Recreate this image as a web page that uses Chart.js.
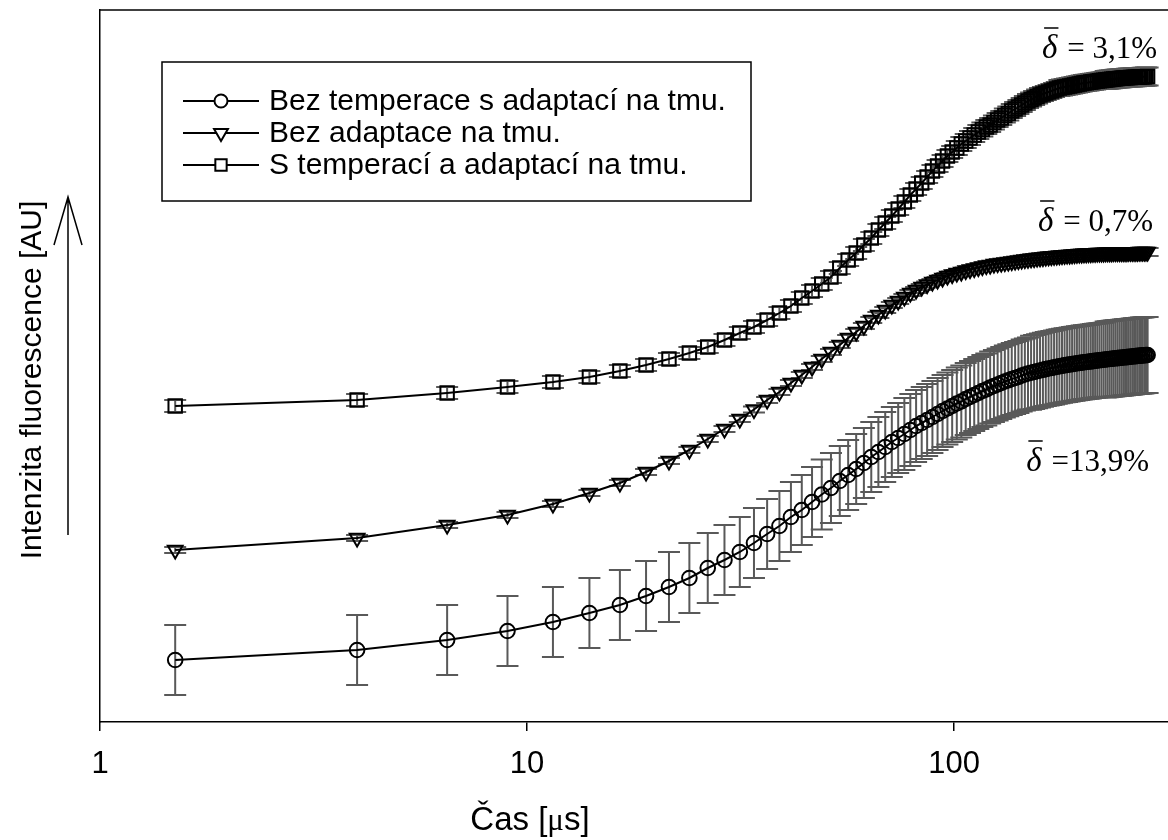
<!DOCTYPE html>
<html>
<head>
<meta charset="utf-8">
<title>Intenzita fluorescence</title>
<script src="https://cdn.jsdelivr.net/npm/chart.js"></script>
<style>
  html, body { margin: 0; padding: 0; background: #fff; }
  canvas { display: block; }
</style>
</head>
<body>
<canvas id="chart" width="1168" height="840"></canvas>
<script>
// ===== Data (time in µs, intensity in AU) =====
const time = [
  1.5, 4, 6.5, 9, 11.5, 14, 16.5, 19, 21.5, 24,
  26.5, 29, 31.5, 34, 36.5, 39, 41.5, 44, 46.5, 49,
  51.5, 54, 56.5, 59, 61.5, 64, 66.5, 69, 71.5, 74,
  76.5, 79, 81.5, 84, 86.5, 89, 91.5, 94, 96.5, 99,
  101.5, 104, 106.5, 109, 111.5, 114, 116.5, 119, 121.5, 124,
  126.5, 129, 131.5, 134, 136.5, 139, 141.5, 144, 146.5, 149,
  151.5, 154, 156.5, 159, 161.5, 164, 166.5, 169, 171.5, 174,
  176.5, 179, 181.5, 184, 186.5, 189, 191.5, 194, 196.5, 199,
  201.5, 204, 206.5, 209, 211.5, 214, 216.5, 219, 221.5, 224,
  226.5, 229, 231.5, 234, 236.5, 239, 241.5, 244, 246.5, 249,
  251.5, 254, 256.5, 259, 261.5, 264, 266.5, 269, 271.5, 274,
  276.5, 279, 281.5, 284
];

// Bez temperace s adaptací na tmu. (circles)
const circleVals = [
  62, 72, 82, 91, 100, 109, 117, 126, 135, 144,
  154, 162, 170, 179, 188, 196, 205, 212, 220, 227.5,
  234, 241, 247, 253, 259, 265, 270, 275, 280, 284,
  288, 292, 296, 299, 302, 305, 308, 311, 313.5, 316,
  318.5, 320.5, 323, 325, 327, 329, 331, 332.5, 334.5, 336,
  337.5, 339, 340.5, 341.7, 343, 344, 345, 346.5, 347.5, 348.5,
  349.3, 350, 350.8, 351.5, 352.2, 352.9, 353.5, 354, 354.6, 355.2,
  355.7, 356.2, 356.7, 357.1, 357.5, 357.9, 358.3, 358.7, 359, 359.4,
  359.7, 360, 360.3, 360.6, 360.9, 361.2, 361.5, 361.7, 362, 362.3,
  362.5, 362.8, 363, 363.2, 363.5, 363.7, 363.9, 364.1, 364.3, 364.5,
  364.7, 364.9, 365.1, 365.3, 365.5, 365.7, 365.9, 366.1, 366.3, 366.4,
  366.6, 366.8, 366.9, 367
];
const circleErr = [
  35, 35, 35, 35, 35, 35, 35, 35, 35, 35,
  35, 35, 35, 35, 35, 35, 35, 35, 35, 35,
  35, 35, 35, 35, 35, 35, 35, 35, 35, 35,
  36, 36, 36, 36, 36, 36, 36, 36, 36, 36,
  36, 36, 36, 36, 36, 36, 36, 36, 36, 36,
  36, 36, 36, 36, 36, 36, 36, 36, 36, 36,
  37, 37, 37, 37, 37, 37, 37, 37, 37, 37,
  37, 37, 37, 37, 37, 37, 37, 37, 37, 37,
  37, 37, 37, 37, 37, 37, 37, 37, 37, 37,
  38, 38, 38, 38, 38, 38, 38, 38, 38, 38,
  38, 38, 38, 38, 38, 38, 38, 38, 38, 38,
  38, 38, 38, 38
];

// Bez adaptace na tmu. (triangles)
const triangleVals = [
  172, 184, 197, 207, 218, 229, 239, 250, 261, 272,
  283, 293, 303, 312.5, 322, 330, 339, 347, 355, 363,
  370, 377, 384, 390, 396, 402, 407, 412, 417, 421,
  425, 429, 432, 435, 437.5, 440, 442, 444, 446, 447.5,
  449, 450, 451.5, 452.5, 453.5, 454.5, 455.5, 456.5, 457, 458,
  458.5, 459, 459.5, 460, 460.5, 461, 461.5, 462, 462.4, 462.8,
  463.2, 463.6, 464, 464.3, 464.6, 464.9, 465.2, 465.5, 465.8, 466,
  466.3, 466.5, 466.7, 466.9, 467.1, 467.3, 467.5, 467.7, 467.9, 468,
  468.2, 468.3, 468.5, 468.6, 468.7, 468.8, 468.9, 469, 469.1, 469.1,
  469.2, 469.2, 469.3, 469.3, 469.4, 469.4, 469.5, 469.5, 469.5, 469.6,
  469.6, 469.6, 469.7, 469.7, 469.7, 469.8, 469.8, 469.8, 469.9, 469.9,
  469.9, 470, 470, 470
];
const triangleErr = [
  3, 3, 3, 3, 3, 3, 3, 3, 3, 3,
  3, 3, 3, 3, 3, 3, 3, 3, 3, 3,
  3, 3, 3, 3, 3, 3, 3, 3, 3, 3,
  3, 3, 3, 3, 3, 3, 3, 3, 3, 3,
  3, 3, 3, 3, 3, 3, 3, 3, 3, 3,
  3, 3, 3, 3, 3, 3, 3, 3, 3, 3,
  4, 4, 4, 4, 4, 4, 4, 4, 4, 4,
  4, 4, 4, 4, 4, 4, 4, 4, 4, 4,
  4, 4, 4, 4, 4, 4, 4, 4, 4, 4,
  4, 4, 4, 4, 4, 4, 4, 4, 4, 4,
  4, 4, 4, 4, 4, 4, 4, 4, 4, 4,
  4, 4, 4, 4
];

// S temperací a adaptací na tmu. (squares)
const squareVals = [
  316, 322, 329, 335, 340, 345, 351, 357, 363, 369,
  375, 382, 389, 395, 402, 409, 416, 424, 431, 438,
  445, 454, 462, 469, 477, 484, 492, 499, 506, 513,
  520, 527, 533, 539, 545, 551, 556, 561, 566, 570,
  574, 578, 581, 584, 587, 590, 592.5, 595, 597, 599.5,
  602, 604, 606.5, 608.5, 611, 613, 615, 617, 619, 621,
  622.5, 624, 625.5, 627, 628, 629, 630, 631, 632, 633,
  634, 634.5, 635, 635.5, 636, 636.5, 637, 637.5, 638, 638.5,
  639, 639.3, 639.6, 640, 640.3, 640.6, 640.9, 641.2, 641.5, 641.8,
  642, 642.3, 642.5, 642.7, 643, 643.2, 643.4, 643.6, 643.8, 644,
  644.1, 644.3, 644.4, 644.5, 644.6, 644.7, 644.8, 644.9, 645, 645.1,
  645.2, 645.3, 645.4, 645.5
];
const squareErr = [
  6, 6, 6, 6, 6, 6, 6, 6, 6, 6,
  6, 6, 6, 6, 6, 6, 6, 6, 6, 6,
  6, 6, 6, 6, 6, 6, 6, 6, 6, 6,
  6, 6, 6, 6, 6, 6, 6, 6, 6, 6,
  7, 7, 7, 7, 7, 7, 7, 7, 7, 7,
  7, 7, 7, 7, 7, 7, 7, 7, 7, 7,
  7, 7, 7, 7, 7, 7, 7, 7, 7, 7,
  8, 8, 8, 8, 8, 8, 8, 8, 8, 8,
  8, 8, 8, 8, 8, 8, 8, 8, 8, 8,
  9, 9, 9, 9, 9, 9, 9, 9, 9, 9,
  9, 9, 9, 9, 9, 9, 9, 9, 9, 9,
  9, 9, 9, 9
];

const seriesNames = [
  "Bez temperace s adaptací na tmu.",
  "Bez adaptace na tmu.",
  "S temperací a adaptací na tmu."
];
const xTicks = [1, 10, 100];
const deltaLabels = ["3,1%", "0,7%", "13,9%"];

// ===== Helpers =====
const toPoints = (vals) => vals.map((v, i) => ({ x: time[i], y: v }));

function markerPath(ctx, style, x, y, r) {
  ctx.beginPath();
  if (style === "circle") {
    ctx.arc(x, y, r, 0, Math.PI * 2);
  } else if (style === "triangle") {
    // pointing down
    ctx.moveTo(x, y + r);
    ctx.lineTo(x - r * 0.866, y - r * 0.5);
    ctx.lineTo(x + r * 0.866, y - r * 0.5);
    ctx.closePath();
  } else {
    const s = r * Math.SQRT1_2;
    ctx.rect(x - s, y - s, 2 * s, 2 * s);
  }
}

// ===== Error bars (drawn under the markers) =====
const errorBars = {
  id: "errorBars",
  beforeDatasetsDraw(chart) {
    const { ctx, scales: { x, y } } = chart;
    ctx.save();
    ctx.strokeStyle = "#595959";
    ctx.lineWidth = 2;
    chart.data.datasets.forEach((ds) => {
      ds.data.forEach((p, i) => {
        const px = x.getPixelForValue(p.x);
        const top = y.getPixelForValue(p.y + ds.err[i]);
        const bot = y.getPixelForValue(p.y - ds.err[i]);
        ctx.beginPath();
        ctx.moveTo(px, top);
        ctx.lineTo(px, bot);
        ctx.moveTo(px - 11, top);
        ctx.lineTo(px + 11, top);
        ctx.moveTo(px - 11, bot);
        ctx.lineTo(px + 11, bot);
        ctx.stroke();
      });
    });
    ctx.restore();
  }
};

// ===== Frame, legend, titles, annotations =====
const decorations = {
  id: "decorations",
  afterDraw(chart) {
    const { ctx, chartArea: a } = chart;
    ctx.save();

    // top frame line
    ctx.strokeStyle = "#000";
    ctx.lineWidth = 1.5;
    ctx.beginPath();
    ctx.moveTo(a.left, a.top);
    ctx.lineTo(a.right, a.top);
    ctx.stroke();

    // legend box
    ctx.lineWidth = 1.5;
    ctx.strokeRect(162, 62, 589, 139);
    const rowsY = [101, 133, 165];
    ctx.font = "30px 'Liberation Sans', Arial, sans-serif";
    ctx.textBaseline = "middle";
    ctx.textAlign = "left";
    chart.data.datasets.forEach((ds, i) => {
      const yy = rowsY[i];
      ctx.strokeStyle = "#000";
      ctx.lineWidth = 2;
      ctx.beginPath();
      ctx.moveTo(183, yy);
      ctx.lineTo(259, yy);
      ctx.stroke();
      markerPath(ctx, ds.pointStyle, 221, yy, ds.pointStyle === "circle" ? 6.5 : 8);
      ctx.fillStyle = "#fff";
      ctx.fill();
      ctx.stroke();
      ctx.fillStyle = "#000";
      ctx.fillText(ds.label, 269, yy + 1);
    });

    // y axis title and arrow
    ctx.save();
    ctx.translate(33, 380);
    ctx.rotate(-Math.PI / 2);
    ctx.textAlign = "center";
    ctx.textBaseline = "middle";
    ctx.font = "30px 'Liberation Sans', Arial, sans-serif";
    ctx.fillStyle = "#000";
    ctx.fillText("Intenzita fluorescence [AU]", 0, 0);
    ctx.restore();

    ctx.strokeStyle = "#000";
    ctx.lineWidth = 1.5;
    ctx.beginPath();
    ctx.moveTo(68, 535);
    ctx.lineTo(68, 197);
    ctx.moveTo(54, 245);
    ctx.lineTo(68, 197);
    ctx.lineTo(82, 245);
    ctx.stroke();

    // x axis title
    ctx.textBaseline = "alphabetic";
    ctx.fillStyle = "#000";
    const t1 = "Čas [", t2 = "μ", t3 = "s]";
    ctx.font = "33px 'Liberation Sans', Arial, sans-serif";
    const w1 = ctx.measureText(t1).width, w3 = ctx.measureText(t3).width;
    ctx.font = "31px 'Liberation Serif', serif";
    const w2 = ctx.measureText(t2).width;
    const sx = 530 - (w1 + w2 + w3) / 2;
    ctx.textAlign = "left";
    ctx.font = "33px 'Liberation Sans', Arial, sans-serif";
    ctx.fillText(t1, sx, 830);
    ctx.font = "31px 'Liberation Serif', serif";
    ctx.fillText(t2, sx + w1, 830);
    ctx.font = "33px 'Liberation Sans', Arial, sans-serif";
    ctx.fillText(t3, sx + w1 + w2, 830);

    // mean relative deviation labels
    const ann = [
      { right: 1157, base: 58, rest: " = " + deltaLabels[0] },
      { right: 1153, base: 231, rest: " = " + deltaLabels[1] },
      { right: 1149, base: 471, rest: " =" + deltaLabels[2] }
    ];
    ann.forEach((d) => {
      ctx.textAlign = "right";
      ctx.textBaseline = "alphabetic";
      ctx.font = "31px 'Liberation Serif', 'Times New Roman', serif";
      const wr = ctx.measureText(d.rest).width;
      ctx.fillText(d.rest, d.right, d.base);
      ctx.font = "italic 33px 'Liberation Serif', 'Times New Roman', serif";
      const wd = ctx.measureText("δ").width;
      const dx = d.right - wr - 2;
      ctx.fillText("δ", dx, d.base);
      ctx.lineWidth = 1.5;
      ctx.beginPath();
      ctx.moveTo(dx - wd + 2, d.base - 30);
      ctx.lineTo(dx + 1, d.base - 30);
      ctx.stroke();
    });

    ctx.restore();
  }
};

// ===== Chart =====
const ctx = document.getElementById("chart").getContext("2d");
new Chart(ctx, {
  type: "line",
  data: {
    datasets: [
      {
        label: seriesNames[0],
        data: toPoints(circleVals),
        err: circleErr,
        pointStyle: "circle",
        pointRadius: 7.3
      },
      {
        label: seriesNames[1],
        data: toPoints(triangleVals),
        err: triangleErr,
        pointStyle: "triangle",
        pointRotation: 180,
        pointRadius: 8.5
      },
      {
        label: seriesNames[2],
        data: toPoints(squareVals),
        err: squareErr,
        pointStyle: "rect",
        pointRadius: 9.5
      }
    ].map((d) => ({
      ...d,
      borderColor: "#000",
      borderWidth: 2,
      pointBorderColor: "#000",
      pointBorderWidth: 2,
      pointBackgroundColor: "rgba(0,0,0,0)",
      fill: false,
      tension: 0
    }))
  },
  options: {
    responsive: false,
    animation: false,
    layout: { autoPadding: false, padding: { top: 10, right: 0, left: 0, bottom: 0 } },
    plugins: {
      legend: { display: false },
      tooltip: { enabled: false }
    },
    scales: {
      x: {
        type: "logarithmic",
        min: 1,
        max: 317,
        afterFit(s) { s.height = 118; },
        afterBuildTicks(s) { s.ticks = xTicks.map((v) => ({ value: v })); },
        ticks: {
          callback: (v) => String(v),
          color: "#000",
          font: { family: "'Liberation Sans', Arial, sans-serif", size: 31 },
          padding: 15,
          maxRotation: 0,
          autoSkip: false
        },
        grid: { drawOnChartArea: false, drawTicks: true, tickLength: 9, color: "#000", lineWidth: 1.5 },
        border: { color: "#000", width: 1.5 }
      },
      y: {
        min: 0,
        max: 712,
        afterFit(s) { s.width = 100; },
        ticks: { display: false },
        grid: { display: false },
        border: { color: "#000", width: 1.5 }
      }
    }
  },
  plugins: [errorBars, decorations]
});
</script>
</body>
</html>
